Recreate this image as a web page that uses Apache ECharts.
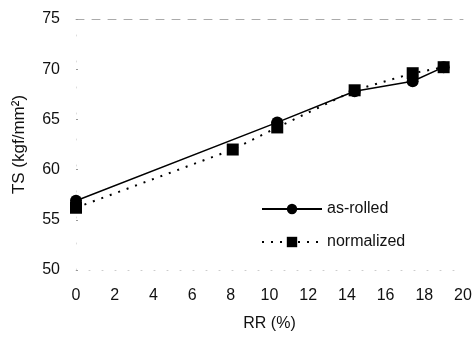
<!DOCTYPE html>
<html>
<head>
<meta charset="utf-8">
<script src="https://cdn.jsdelivr.net/npm/echarts@6/dist/echarts.min.js"></script>
<style>
html, body { margin: 0; padding: 0; background: #fff; }
#chart { width: 475px; height: 337px; }
</style>
</head>
<body>
<div id="chart"></div>
<script>
// values
var rrAsRolled = [0, 10.4, 14.4, 17.4, 19.0];
var tsAsRolled = [56.9, 64.7, 67.8, 68.8, 70.2];
var rrNormalized = [0, 8.1, 10.4, 14.4, 17.4, 19.0];
var tsNormalized = [56.2, 62.0, 64.2, 67.9, 69.6, 70.2];
var seriesNames = ['as-rolled', 'normalized'];

function pairs(xs, ys){
	var out = [];
	for (var i = 0; i < xs.length; i++) {
		out.push([xs[i], ys[i]]);
	}
	return out;
}

var chart = echarts.init(document.getElementById('chart'));
var fontName = '"Liberation Sans", Arial, sans-serif';

var option = {
	animation: false,
	textStyle: { fontFamily: fontName },
	grid: { left: 76, right: 12, top: 19, bottom: 65 },
	legend: {
		orient: 'vertical',
		left: 256,
		top: 196,
		itemWidth: 60,
		itemHeight: 13,
		itemGap: 17,
		textStyle: { fontSize: 16, color: '#111', fontFamily: fontName },
		data: seriesNames
	},
	xAxis: [{
		type: 'value',
		min: 0,
		max: 20,
		interval: 2,
		name: 'RR (%)',
		nameLocation: 'middle',
		nameGap: 46,
		nameTextStyle: { fontSize: 16, color: '#111' },
		axisLine: { show: true, lineStyle: { color: '#ccc', type: [1, 12] } },
		axisTick: { show: false },
		splitLine: { show: false },
		axisLabel: { fontSize: 16, color: '#111', margin: 18 }
	}, {
		type: 'value',
		position: 'top',
		min: 0,
		max: 20,
		axisLine: { show: true, lineStyle: { color: '#aaa', type: [8, 8] } },
		axisTick: { show: false },
		axisLabel: { show: false },
		splitLine: { show: false }
	}],
	yAxis: [{
		type: 'value',
		min: 50,
		max: 75,
		interval: 5,
		name: 'TS (kgf/mm²)',
		nameLocation: 'middle',
		nameGap: 48,
		nameTextStyle: { fontSize: 17, color: '#111' },
		axisLine: { show: false },
		axisTick: { show: true, length: 2, inside: true, lineStyle: { color: '#999' } },
		splitLine: { show: false },
		axisLabel: { fontSize: 16, color: '#111', margin: 16 }
	}, {
		type: 'value',
		position: 'right',
		min: 50,
		max: 75,
		axisLine: { show: true, lineStyle: { color: '#ddd', type: [1, 25] } },
		axisTick: { show: false },
		axisLabel: { show: false },
		splitLine: { show: false }
	}],
	series: [{
		name: seriesNames[0],
		type: 'line',
		data: pairs(rrAsRolled, tsAsRolled),
		symbol: 'circle',
		symbolSize: 12,
		itemStyle: { color: '#000' },
		lineStyle: { color: '#000', width: 1.5, type: 'solid' },
		z: 2
	}, {
		name: seriesNames[1],
		type: 'line',
		data: pairs(rrNormalized, tsNormalized),
		symbol: 'rect',
		symbolSize: 12,
		itemStyle: { color: '#000' },
		lineStyle: { color: '#000', width: 2, type: [2, 7] },
		z: 3
	}]
};

chart.setOption(option);
</script>
</body>
</html>
